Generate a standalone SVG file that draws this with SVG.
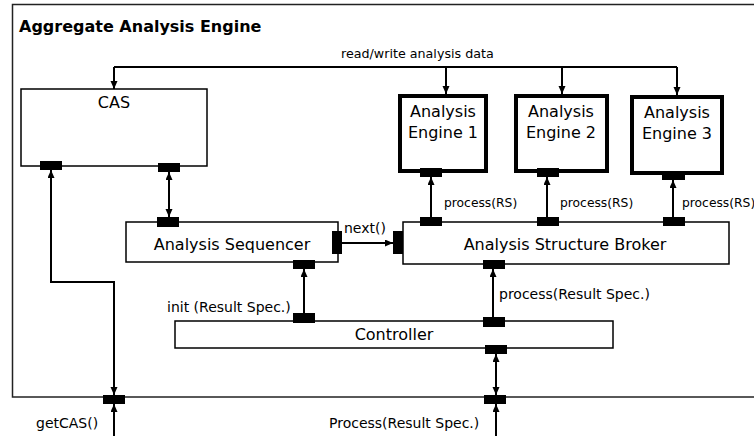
<svg xmlns="http://www.w3.org/2000/svg" width="754" height="436" viewBox="0 0 754 436">
  <style>
    .box { fill: #fff; stroke: #000; stroke-width: 1.5; }
    .engine { fill: #fff; stroke: #000; stroke-width: 4; }
    .port { fill: #000; }
    .wire { fill: none; stroke: #000; stroke-width: 2; }
    .t16 { font-family: "DejaVu Sans", Verdana, sans-serif; font-size: 16px; fill: #000; }
    .t14 { font-family: "DejaVu Sans", Verdana, sans-serif; font-size: 14px; fill: #000; }
    .t12 { font-family: "DejaVu Sans", Verdana, sans-serif; font-size: 12.3px; fill: #000; }
    .mid { text-anchor: middle; }
  </style>
  <defs>
    <marker id="arrow" markerUnits="userSpaceOnUse" markerWidth="9" markerHeight="8" refX="8" refY="3.5" orient="auto-start-reverse">
      <path d="M0,0 L8,3.5 L0,7 z" fill="#000"/>
    </marker>
  </defs>

  <rect width="754" height="436" fill="#fff"/>

  <!-- outer aggregate frame -->
  <g id="aggregate">
    <rect x="12.5" y="4.5" width="760" height="392.5" fill="none" stroke="#222" stroke-width="1.5"/>
    <text x="19" y="32" style="font-family: 'DejaVu Sans', Verdana, sans-serif; font-size: 16px; font-weight: bold;">Aggregate Analysis Engine</text>
    <rect class="port" x="103" y="395" width="22" height="9"/>
    <rect class="port" x="484" y="395" width="22" height="9"/>
  </g>

  <g id="cas">
    <rect class="box" x="21" y="89" width="186" height="77"/>
    <text class="t16 mid" x="114" y="108">CAS</text>
    <rect class="port" x="40" y="161" width="22" height="9"/>
    <rect class="port" x="158" y="163" width="22" height="9"/>
  </g>

  <g id="engine1">
    <rect class="engine" x="400" y="96" width="86" height="75"/>
    <text class="t16 mid" x="443" y="117">Analysis</text>
    <text class="t16 mid" x="443" y="138">Engine 1</text>
    <rect class="port" x="420" y="168" width="22" height="9"/>
  </g>

  <g id="engine2">
    <rect class="engine" x="516" y="96" width="91" height="75"/>
    <text class="t16 mid" x="561" y="117">Analysis</text>
    <text class="t16 mid" x="561" y="138">Engine 2</text>
    <rect class="port" x="537" y="168" width="22" height="9"/>
  </g>

  <g id="engine3">
    <rect class="engine" x="632" y="97" width="90" height="76"/>
    <text class="t16 mid" x="677" y="118">Analysis</text>
    <text class="t16 mid" x="677" y="139">Engine 3</text>
    <rect class="port" x="662" y="171" width="23" height="9"/>
  </g>

  <g id="sequencer">
    <rect class="box" x="126" y="222" width="212" height="40"/>
    <text class="t16 mid" x="232" y="250">Analysis Sequencer</text>
    <rect class="port" x="157" y="217" width="22" height="10"/>
    <rect class="port" x="293" y="260" width="22" height="9"/>
    <rect class="port" x="332" y="231" width="10" height="23"/>
  </g>

  <g id="broker">
    <rect class="box" x="403" y="222" width="326" height="42"/>
    <text class="t16 mid" x="565" y="250">Analysis Structure Broker</text>
    <rect class="port" x="393" y="231" width="10" height="23"/>
    <rect class="port" x="420" y="217" width="22" height="9"/>
    <rect class="port" x="537" y="217" width="22" height="9"/>
    <rect class="port" x="663" y="217" width="22" height="9"/>
    <rect class="port" x="483" y="260" width="22" height="9"/>
  </g>

  <g id="controller">
    <rect class="box" x="175" y="321" width="438" height="27"/>
    <text class="t16 mid" x="394" y="340">Controller</text>
    <rect class="port" x="293" y="313" width="22" height="10"/>
    <rect class="port" x="483" y="317" width="22" height="10"/>
    <rect class="port" x="485" y="345" width="22" height="9"/>
  </g>

  <g id="connectors">
    <!-- shared read/write bus -->
    <path class="wire" d="M114,67 H677"/>
    <path class="wire" d="M114,67 V89" marker-end="url(#arrow)"/>
    <path class="wire" d="M446,67 V94" marker-end="url(#arrow)"/>
    <path class="wire" d="M562,67 V94" marker-end="url(#arrow)"/>
    <path class="wire" d="M677,67 V95" marker-end="url(#arrow)"/>
    <text class="t12" x="341" y="58" style="font-size:12.7px">read/write analysis data</text>

    <!-- broker to engines -->
    <path class="wire" d="M431,217 V177" marker-end="url(#arrow)"/>
    <path class="wire" d="M547,217 V177" marker-end="url(#arrow)"/>
    <path class="wire" d="M673,217 V180" marker-end="url(#arrow)"/>
    <text class="t12" x="444" y="207">process(RS)</text>
    <text class="t12" x="560" y="207">process(RS)</text>
    <text class="t12" x="682" y="207">process(RS)</text>

    <!-- CAS to sequencer -->
    <path class="wire" d="M169,172 V217" marker-start="url(#arrow)" marker-end="url(#arrow)"/>

    <!-- getCAS path -->
    <path class="wire" d="M51,170 V282 H114 V395" marker-start="url(#arrow)" marker-end="url(#arrow)"/>
    <path class="wire" d="M114,436 V404" marker-end="url(#arrow)"/>
    <text class="t14" x="36" y="428">getCAS()</text>

    <!-- sequencer to broker -->
    <path class="wire" d="M342,243 H393" marker-end="url(#arrow)"/>
    <text class="t14" x="344" y="233">next()</text>

    <!-- controller to sequencer -->
    <path class="wire" d="M304,313 V269" marker-end="url(#arrow)"/>
    <text class="t14" x="167" y="312">init (Result Spec.)</text>

    <!-- controller to broker -->
    <path class="wire" d="M493,317 V269" marker-end="url(#arrow)"/>
    <text class="t14" x="499" y="299">process(Result Spec.)</text>

    <!-- controller to outer interface -->
    <path class="wire" d="M496,354 V395" marker-start="url(#arrow)" marker-end="url(#arrow)"/>
    <path class="wire" d="M496,436 V404" marker-end="url(#arrow)"/>
    <text class="t14" x="329" y="428">Process(Result Spec.)</text>
  </g>
</svg>
